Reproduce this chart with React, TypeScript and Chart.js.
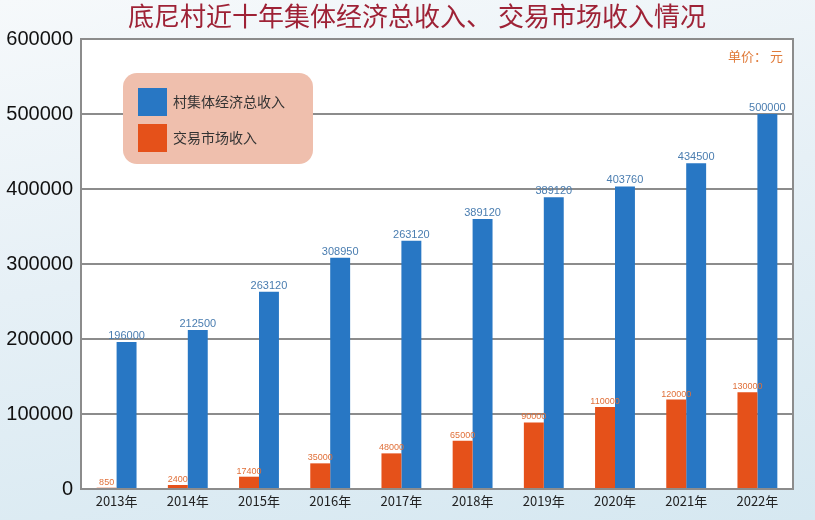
import React, { useEffect, useRef } from "react";
import { Chart, registerables } from "chart.js";

Chart.register(...registerables);

const TITLE = "底尼村近十年集体经济总收入、 交易市场收入情况";
const UNIT = "单价： 元";
const YEARS = ["2013年", "2014年", "2015年", "2016年", "2017年", "2018年", "2019年", "2020年", "2021年", "2022年"];
const SERIES_NAMES = ["交易市场收入", "村集体经济总收入"];
const MARKET_VALUES = [1700, 5300, 16400, 34200, 47500, 64300, 88700, 109500, 119300, 129000];
const MARKET_LABELS = ["850", "2400", "17400", "35000", "48000", "65000", "90000", "110000", "120000", "130000"];
const TOTAL_VALUES = [196000, 212000, 263000, 308500, 331000, 360000, 389000, 403500, 434300, 500000];
const TOTAL_LABELS = ["196000", "212500", "263120", "308950", "263120", "389120", "389120", "403760", "434500", "500000"];
const Y_MAX = 600000;
const Y_STEP = 100000;

const BLUE = "#2877C4";
const ORANGE = "#E5511A";
const GRID = "#8c8c8c";
const CJK = '"Noto Sans CJK SC", "Noto Sans", sans-serif';
const LATIN = '"Liberation Sans", Arial, sans-serif';

export default function App() {
  const ref = useRef<HTMLCanvasElement | null>(null);

  useEffect(() => {
    if (!ref.current) return;

    const decor = {
      id: "decor",
      beforeDraw(chart: any) {
        const { ctx, chartArea: a } = chart;
        ctx.save();
        ctx.fillStyle = "#ffffff";
        ctx.fillRect(a.left, a.top, a.right - a.left, a.bottom - a.top);
        ctx.restore();
      },
      afterDatasetsDraw(chart: any) {
        const { ctx, chartArea: a } = chart;
        ctx.save();
        // right border
        ctx.strokeStyle = GRID;
        ctx.lineWidth = 2;
        ctx.beginPath();
        ctx.moveTo(a.right, a.top - 1);
        ctx.lineTo(a.right, a.bottom);
        ctx.stroke();

        // data labels
        const specs = [
          { labels: MARKET_LABELS, font: `9px ${LATIN}`, color: "#E0703A" },
          { labels: TOTAL_LABELS, font: `11px ${LATIN}`, color: "#4A7DB0" },
        ];
        specs.forEach((s, di) => {
          const meta = chart.getDatasetMeta(di);
          ctx.font = s.font;
          ctx.fillStyle = s.color;
          ctx.textAlign = "center";
          ctx.textBaseline = "alphabetic";
          meta.data.forEach((el: any, i: number) => {
            ctx.fillText(s.labels[i], el.x, el.y - 3);
          });
        });

        // legend box
        const lx = a.left + 42, ly = a.top + 34, lw = 190, lh = 91;
        ctx.fillStyle = "#EFBFAD";
        ctx.beginPath();
        (ctx as any).roundRect(lx, ly, lw, lh, 14);
        ctx.fill();
        const items = [
          { name: SERIES_NAMES[1], color: BLUE, y: ly + 15 },
          { name: SERIES_NAMES[0], color: ORANGE, y: ly + 51 },
        ];
        items.forEach((it) => {
          ctx.fillStyle = it.color;
          ctx.fillRect(lx + 15, it.y, 29, 28);
          ctx.fillStyle = "#333333";
          ctx.font = `14px ${CJK}`;
          ctx.textAlign = "left";
          ctx.textBaseline = "middle";
          ctx.fillText(it.name, lx + 50, it.y + 14);
        });

        // unit
        ctx.fillStyle = "#E07C3C";
        ctx.font = `13px ${CJK}`;
        ctx.textAlign = "right";
        ctx.textBaseline = "middle";
        ctx.fillText(UNIT, a.right - 10, a.top + 17);

        // title
        ctx.fillStyle = "#9E2236";
        ctx.font = `26px ${CJK}`;
        ctx.textAlign = "center";
        ctx.textBaseline = "middle";
        ctx.fillText(TITLE, 417, 16);
        ctx.restore();
      },
    };

    const chart = new Chart(ref.current, {
      type: "bar",
      data: {
        labels: YEARS,
        datasets: [
          { label: SERIES_NAMES[0], data: MARKET_VALUES, backgroundColor: ORANGE, categoryPercentage: 0.56, barPercentage: 1 },
          { label: SERIES_NAMES[1], data: TOTAL_VALUES, backgroundColor: BLUE, categoryPercentage: 0.56, barPercentage: 1 },
        ],
      },
      options: {
        responsive: false,
        animation: false,
        devicePixelRatio: 1,
        layout: { padding: { top: 39, right: 22, left: 0, bottom: 0 } },
        plugins: {
          legend: { display: false },
          title: { display: false },
          tooltip: { enabled: false },
        },
        scales: {
          x: {
            grid: { display: false, drawTicks: false },
            border: { display: true, color: GRID, width: 2 },
            ticks: { font: { size: 13, family: CJK }, color: "#222222", padding: 4, maxRotation: 0 },
            afterFit: (s: any) => { s.height = 31; },
          },
          y: {
            min: 0,
            max: Y_MAX,
            grid: { color: GRID, lineWidth: 2, drawTicks: false },
            border: { display: true, color: GRID, width: 2 },
            ticks: {
              stepSize: Y_STEP,
              font: { size: 20, family: LATIN },
              color: "#111111",
              padding: 8,
              callback: (v: any) => String(v),
            },
            afterFit: (s: any) => { s.width = 81; },
          },
        },
      },
      plugins: [decor],
    });

    return () => chart.destroy();
  }, []);

  return (
    <div
      style={{
        position: "fixed",
        left: 0,
        top: 0,
        width: 815,
        height: 520,
        background: "linear-gradient(170deg, #f6f9fb 0%, #e6f0f6 45%, #d6e8f1 100%)",
      }}
    >
      <canvas ref={ref} width={815} height={520} style={{ display: "block" }} />
    </div>
  );
}
